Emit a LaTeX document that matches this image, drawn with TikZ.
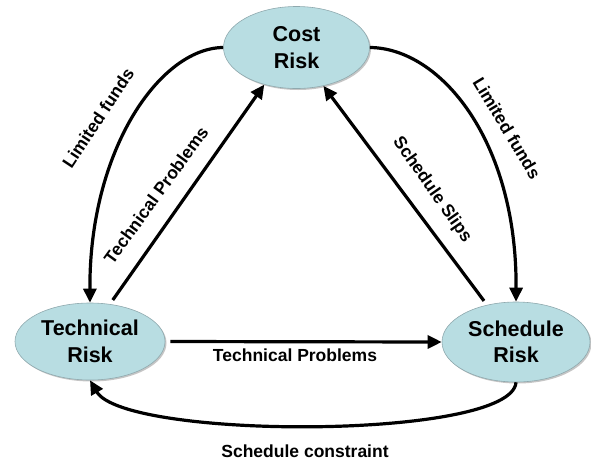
\documentclass[tikz,border=0pt]{standalone}
\usepackage{fontspec}
\setmainfont{Liberation Sans}
\usetikzlibrary{shapes.geometric,arrows.meta,shadows}
\definecolor{riskfill}{HTML}{B8DDE2}
\definecolor{riskline}{HTML}{8FA9AE}
\tikzset{
  risk/.style={ellipse, inner sep=0pt, fill=riskfill, draw=riskline, line width=0.6pt,
    drop shadow={shadow xshift=1.5pt, shadow yshift=-1.5pt, fill=black!45, opacity=0.5},
    font=\bfseries\fontsize{21.5}{26.5}\selectfont, align=center},
  link/.style={line width=3.2pt, -{Triangle[length=14pt,width=13pt]}},
  lbl/.style={font=\bfseries\fontsize{17.5}{21}\selectfont, inner sep=0pt}
}
\begin{document}
\begin{tikzpicture}[x=1pt,y=-1pt]
\useasboundingbox (0,0) rectangle (591,461);

% the three risk areas
\node[risk, minimum width=146pt, minimum height=82pt] (cost) at (296.5,47.5) {Cost\\Risk};
\node[risk, minimum width=150pt, minimum height=77pt] (tech) at (90,341.5) {Technical\\Risk};
\node[risk, minimum width=148pt, minimum height=80pt] (sched) at (516,342) {Schedule\\Risk};

% influences between them
\draw[link] (cost.west) .. controls (160,48) and (89,150) .. (tech.north);
\draw[link] (cost.east) .. controls (440,48) and (517,140) .. (sched.north);
\draw[link, shorten <=5pt] (tech.62) -- (cost.229);
\draw[link, shorten <=5pt] (sched.128) -- (cost.305);
\draw[link, shorten <=5pt] (tech.east) -- (sched.west);
\draw[link] (sched.south) .. controls (512,440) and (125,440) .. (tech.south);

% labels
\node[lbl, rotate=56.5] (lfl) at (98,118) {Limited funds};
\node[lbl, rotate=-59] (lfr) at (507,128) {Limited funds};
\node[lbl, rotate=54] (tpd) at (156,195) {Technical Problems};
\node[lbl, rotate=-55] (ss) at (432,190) {Schedule Slips};
\node[lbl] (tph) at (295,355) {Technical Problems};
\node[lbl] (sc) at (305,451) {Schedule constraint};
\end{tikzpicture}
\end{document}
